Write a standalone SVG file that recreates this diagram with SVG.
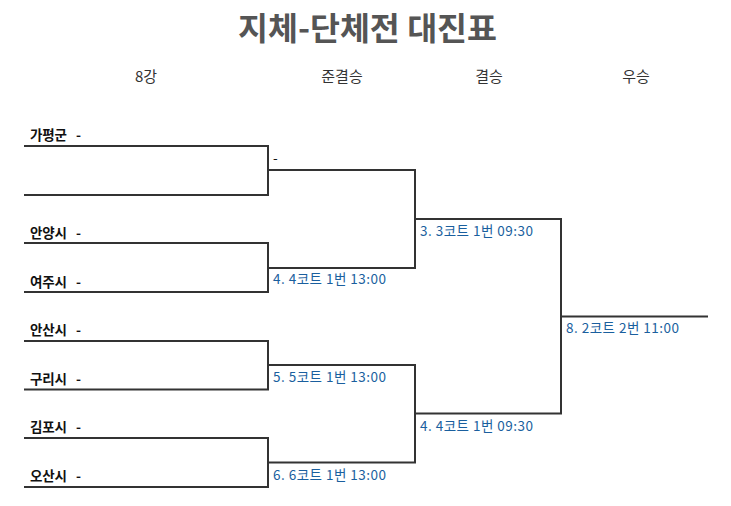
<svg xmlns="http://www.w3.org/2000/svg" width="731" height="506" viewBox="0 0 731 506">
<style>
.title{font-family:"Noto Sans CJK KR","Noto Sans",sans-serif;font-size:32px;font-weight:bold;fill:#555;text-anchor:middle}
.hdr{font-family:"Noto Sans CJK KR","Noto Sans",sans-serif;font-size:15px;fill:#333;text-anchor:middle}
.name{font-family:"Noto Sans CJK KR","Noto Sans",sans-serif;font-size:13.5px;font-weight:bold;fill:#111}
.match{font-family:"Noto Sans CJK KR","Noto Sans",sans-serif;font-size:13.5px;fill:#1a5f9e}
.ln{fill:none;stroke:#333;stroke-width:2}
</style>
<rect width="731" height="506" fill="#fff"/>
<text class="title" x="367.5" y="40" textLength="259" lengthAdjust="spacingAndGlyphs">지체-단체전 대진표</text>
<g id="headers">
<text class="hdr" x="146" y="82">8강</text>
<text class="hdr" x="342" y="82">준결승</text>
<text class="hdr" x="489" y="82">결승</text>
<text class="hdr" x="636" y="82">우승</text>
</g>
<g id="connectors">
<path class="ln" d="M24 146H268V195H24"/>
<path class="ln" d="M24 243H268V292H24"/>
<path class="ln" d="M24 341H268V389.5H24"/>
<path class="ln" d="M24 438H268V487H24"/>
<path class="ln" d="M268 170H415V268H268"/>
<path class="ln" d="M268 365H415V462.5H268"/>
<path class="ln" d="M415 219H561V413.5H415"/>
<path class="ln" d="M561 316.5H708"/>
</g>
<g id="t1"><text class="name" x="30" y="140" textLength="37">가평군</text><text class="name" x="76" y="140">-</text></g>
<g id="t2"><text class="name" x="30" y="238" textLength="37">안양시</text><text class="name" x="76" y="238">-</text></g>
<g id="t3"><text class="name" x="30" y="287" textLength="37">여주시</text><text class="name" x="76" y="287">-</text></g>
<g id="t4"><text class="name" x="30" y="335" textLength="37">안산시</text><text class="name" x="76" y="335">-</text></g>
<g id="t5"><text class="name" x="30" y="384" textLength="37">구리시</text><text class="name" x="76" y="384">-</text></g>
<g id="t6"><text class="name" x="30" y="432" textLength="37">김포시</text><text class="name" x="76" y="432">-</text></g>
<g id="t7"><text class="name" x="30" y="481" textLength="37">오산시</text><text class="name" x="76" y="481">-</text></g>
<g id="m1"><text class="name" x="273" y="163" style="font-weight:normal">-</text></g>
<g id="m4"><text class="match" x="273" y="284" textLength="113">4. 4코트 1번 13:00</text></g>
<g id="m5"><text class="match" x="273" y="382" textLength="113">5. 5코트 1번 13:00</text></g>
<g id="m6"><text class="match" x="273" y="480" textLength="113">6. 6코트 1번 13:00</text></g>
<g id="m3"><text class="match" x="420" y="236" textLength="113">3. 3코트 1번 09:30</text></g>
<g id="m4b"><text class="match" x="420" y="431" textLength="113">4. 4코트 1번 09:30</text></g>
<g id="m8"><text class="match" x="566" y="333" textLength="113">8. 2코트 2번 11:00</text></g>
</svg>
